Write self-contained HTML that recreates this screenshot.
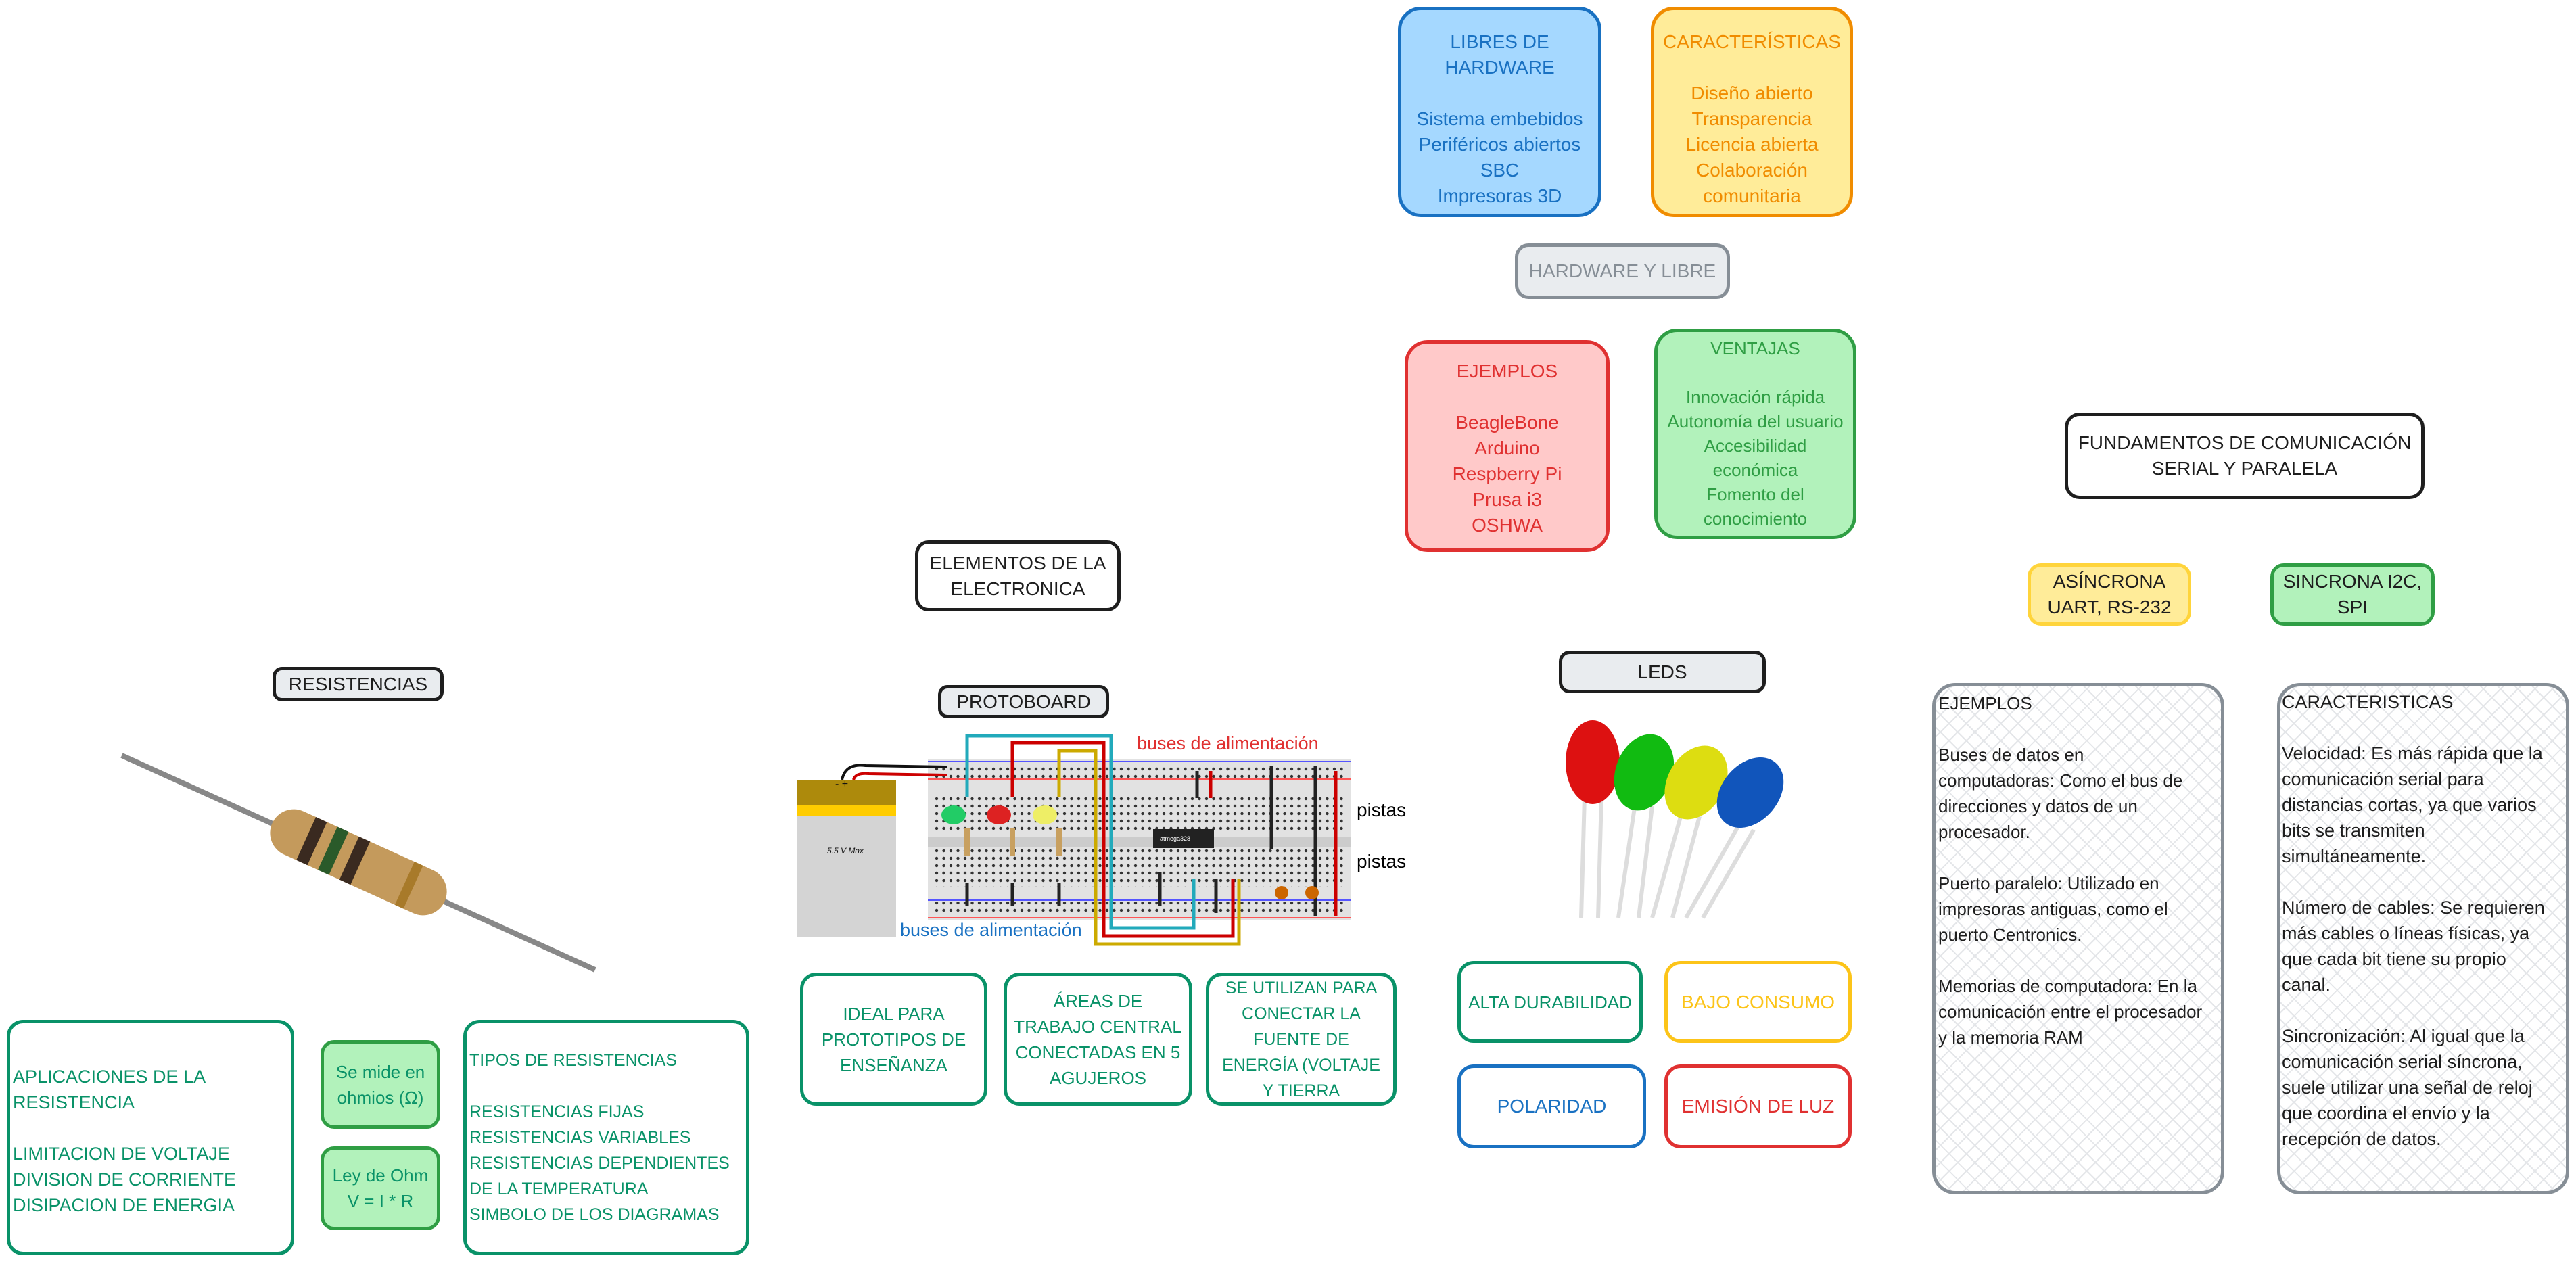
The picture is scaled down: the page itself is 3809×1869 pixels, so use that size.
<!DOCTYPE html>
<html><head><meta charset="utf-8">
<style>
body{margin:0;width:3809px;height:1869px;background:#fff;position:relative;overflow:hidden;font-family:"Liberation Sans",sans-serif}
.b{position:absolute;box-sizing:border-box;border:5px solid;border-radius:34px;text-align:center;font-size:28px;line-height:38px;white-space:nowrap}
.c{display:flex;align-items:center;justify-content:center}
.l{text-align:left}
.hatch{background-image:repeating-linear-gradient(45deg,transparent 0 16px,#e4e6e9 16px 18px),repeating-linear-gradient(-45deg,transparent 0 16px,#e4e6e9 16px 18px)}
</style></head><body>

<div class="b" style="left:2067px;top:10px;width:301px;height:311px;background:#a5d8ff;border-color:#1971c2;color:#1971c2;padding-top:28px">LIBRES DE<br>HARDWARE<br><br>Sistema embebidos<br>Periféricos abiertos<br>SBC<br>Impresoras 3D</div>
<div class="b" style="left:2441px;top:10px;width:299px;height:311px;background:#ffec99;border-color:#f08c00;color:#f08c00;padding-top:28px">CARACTERÍSTICAS<br><br>Diseño abierto<br>Transparencia<br>Licencia abierta<br>Colaboración<br>comunitaria</div>
<div class="b c" style="left:2240px;top:360px;width:318px;height:82px;background:#e9ecef;border-color:#868e96;color:#868e96;border-radius:20px">HARDWARE Y LIBRE</div>
<div class="b" style="left:2077px;top:503px;width:303px;height:313px;background:#ffc9c9;border-color:#e03131;color:#e03131;padding-top:22px">EJEMPLOS<br><br>BeagleBone<br>Arduino<br>Respberry Pi<br>Prusa i3<br>OSHWA</div>
<div class="b" style="left:2446px;top:486px;width:299px;height:311px;background:#b2f2bb;border-color:#2f9e44;color:#2f9e44;padding-top:6px;font-size:26px;line-height:36px">VENTAJAS<br><br>Innovación rápida<br>Autonomía del usuario<br>Accesibilidad<br>económica<br>Fomento del<br>conocimiento</div>

<div class="b c" style="left:3053px;top:610px;width:532px;height:128px;border-color:#1e1e1e;color:#1e1e1e;border-radius:22px">FUNDAMENTOS DE COMUNICACIÓN<br>SERIAL Y PARALELA</div>
<div class="b c" style="left:2998px;top:833px;width:242px;height:92px;background:#ffec99;border-color:#ffd43b;color:#1e1e1e;border-radius:20px">ASÍNCRONA<br>UART, RS-232</div>
<div class="b c" style="left:3357px;top:833px;width:243px;height:92px;background:#b2f2bb;border-color:#2f9e44;color:#1e1e1e;border-radius:20px">SINCRONA I2C,<br>SPI</div>
<div class="b l hatch" style="left:2857px;top:1010px;width:432px;height:756px;border-color:#868e96;color:#1e1e1e;padding:6px 0 0 4px;font-size:26px;line-height:38px">EJEMPLOS<br><br>Buses de datos en<br>computadoras: Como el bus de<br>direcciones y datos de un<br>procesador.<br><br>Puerto paralelo: Utilizado en<br>impresoras antiguas, como el<br>puerto Centronics.<br><br>Memorias de computadora: En la<br>comunicación entre el procesador<br>y la memoria RAM</div>
<div class="b l hatch" style="left:3367px;top:1010px;width:432px;height:756px;border-color:#868e96;color:#1e1e1e;padding:4px 0 0 2px;font-size:27px;line-height:38px">CARACTERISTICAS<br><br>Velocidad: Es más rápida que la<br>comunicación serial para<br>distancias cortas, ya que varios<br>bits se transmiten<br>simultáneamente.<br><br>Número de cables: Se requieren<br>más cables o líneas físicas, ya<br>que cada bit tiene su propio<br>canal.<br><br>Sincronización: Al igual que la<br>comunicación serial síncrona,<br>suele utilizar una señal de reloj<br>que coordina el envío y la<br>recepción de datos.</div>

<div class="b c" style="left:2305px;top:962px;width:306px;height:63px;background:#e9ecef;border-color:#1e1e1e;color:#1e1e1e;border-radius:16px">LEDS</div>
<svg style="position:absolute;left:2283px;top:1057px" width="400" height="320">
 <g stroke="#ddd" stroke-width="6" fill="none"><path d="M60 120 L55 300M85 120 L80 300M135 130 L110 300M160 135 L140 300M205 140 L160 300M230 150 L190 300M290 160 L210 300M310 170 L235 300"/></g>
 <g><ellipse cx="72" cy="70" rx="40" ry="62" fill="#d11"/><ellipse cx="148" cy="85" rx="42" ry="58" fill="#1b1" transform="rotate(20 148 85)"/><ellipse cx="225" cy="100" rx="42" ry="58" fill="#dd1" transform="rotate(30 225 100)"/><ellipse cx="305" cy="115" rx="42" ry="58" fill="#15b" transform="rotate(40 305 115)"/></g>
</svg>
<div class="b c" style="left:2155px;top:1421px;width:274px;height:121px;border-color:#099268;color:#099268;border-radius:24px;font-size:26px">ALTA DURABILIDAD</div>
<div class="b c" style="left:2461px;top:1421px;width:277px;height:121px;border-color:#fcc419;color:#fcc419;border-radius:24px">BAJO CONSUMO</div>
<div class="b c" style="left:2155px;top:1574px;width:279px;height:124px;border-color:#1971c2;color:#1971c2;border-radius:24px">POLARIDAD</div>
<div class="b c" style="left:2461px;top:1574px;width:277px;height:124px;border-color:#e03131;color:#e03131;border-radius:24px">EMISIÓN DE LUZ</div>

<div class="b c" style="left:1353px;top:799px;width:304px;height:105px;border-color:#1e1e1e;color:#1e1e1e;border-radius:20px">ELEMENTOS DE LA<br>ELECTRONICA</div>
<div class="b c" style="left:1387px;top:1013px;width:253px;height:49px;background:#e9ecef;border-color:#1e1e1e;color:#1e1e1e;border-radius:14px">PROTOBOARD</div>
<svg style="position:absolute;left:1170px;top:1000px" width="840" height="420">
 <defs><pattern id="dots" width="10.5" height="11" patternUnits="userSpaceOnUse"><circle cx="5" cy="5" r="2.2" fill="#333"/></pattern></defs>
 <rect x="202" y="122" width="625" height="238" fill="#e2e2e2"/>
 <line x1="202" y1="126" x2="827" y2="126" stroke="#55f" stroke-width="2"/><line x1="202" y1="152" x2="827" y2="152" stroke="#f55" stroke-width="2"/>
 <line x1="202" y1="331" x2="827" y2="331" stroke="#55f" stroke-width="2"/><line x1="202" y1="357" x2="827" y2="357" stroke="#f55" stroke-width="2"/>
 <rect x="210" y="130" width="610" height="20" fill="url(#dots)"/>
 <rect x="210" y="334" width="610" height="20" fill="url(#dots)"/>
 <rect x="210" y="176" width="610" height="56" fill="url(#dots)"/>
 <rect x="202" y="238" width="625" height="14" fill="#ccc"/>
 <rect x="210" y="256" width="610" height="56" fill="url(#dots)"/>
 <rect x="535" y="226" width="90" height="28" fill="#222"/>
 <text x="545" y="243" font-size="9" fill="#fff">atmega328</text>
 <rect x="8" y="153" width="147" height="232" fill="#d4d4d4"/><rect x="8" y="153" width="147" height="38" fill="#ad8a0c"/><rect x="8" y="191" width="147" height="16" fill="#fc0"/>
 <text x="65" y="164" font-size="16" fill="#111">- +</text>
 <text x="80" y="262" font-size="12" text-anchor="middle" font-style="italic" fill="#111">5.5 V Max</text>
 <path d="M75 153 Q80 128 110 132 L230 134" stroke="#111" stroke-width="4" fill="none"/><path d="M92 153 Q95 142 115 144 L230 146" stroke="#c00" stroke-width="4" fill="none"/>
 <g fill="none" stroke-width="5"><path d="M260 178 V88 H473 V372 H595 V300" stroke="#2ab"/><path d="M327 178 V98 H462 V384 H653 V300" stroke="#c00"/><path d="M396 178 V110 H450 V396 H662 V300" stroke="#ca0"/><path d="M805 140 V355" stroke="#c00"/><path d="M775 133 V355" stroke="#222"/><path d="M710 133 V255" stroke="#222"/><path d="M600 140 V180" stroke="#222"/><path d="M620 140 V180" stroke="#c00"/><path d="M260 305 V340M327 305 V340M396 305 V340M545 290 V340M628 300 V350" stroke="#222"/></g>
 <ellipse cx="240" cy="205" rx="18" ry="14" fill="#2c6"/><ellipse cx="307" cy="205" rx="18" ry="14" fill="#d22"/><ellipse cx="375" cy="205" rx="18" ry="14" fill="#ee6"/>
 <g fill="#c8a060"><rect x="256" y="225" width="8" height="40"/><rect x="323" y="225" width="8" height="40"/><rect x="392" y="225" width="8" height="40"/></g>
 <circle cx="725" cy="320" r="10" fill="#c60"/><circle cx="770" cy="320" r="10" fill="#c60"/>
 <text x="511" y="108" font-size="27" fill="#e03131">buses de alimentación</text>
 <text x="161" y="384" font-size="27" fill="#1971c2">buses de alimentación</text>
</svg>
<div style="position:absolute;left:2006px;top:1182px;font-size:28px">pistas</div>
<div style="position:absolute;left:2006px;top:1258px;font-size:28px">pistas</div>
<div class="b c" style="left:1183px;top:1438px;width:277px;height:197px;border-color:#099268;color:#099268;border-radius:24px;font-size:26px">IDEAL PARA<br>PROTOTIPOS DE<br>ENSEÑANZA</div>
<div class="b c" style="left:1484px;top:1438px;width:279px;height:197px;border-color:#099268;color:#099268;border-radius:24px;font-size:26px">ÁREAS DE<br>TRABAJO CENTRAL<br>CONECTADAS EN 5<br>AGUJEROS</div>
<div class="b c" style="left:1783px;top:1438px;width:282px;height:197px;border-color:#099268;color:#099268;border-radius:24px;font-size:25px">SE UTILIZAN PARA<br>CONECTAR LA<br>FUENTE DE<br>ENERGÍA (VOLTAJE<br>Y TIERRA</div>

<div class="b c" style="left:403px;top:986px;width:253px;height:51px;background:#e9ecef;border-color:#1e1e1e;color:#1e1e1e;border-radius:14px">RESISTENCIAS</div>
<svg style="position:absolute;left:175px;top:1112px" width="710" height="330">
 <line x1="5" y1="5" x2="705" y2="322" stroke="#888" stroke-width="8"/>
 <g transform="rotate(24.4 355 163)"><rect x="215" y="128" width="280" height="70" rx="35" fill="#c49a5c"/><rect x="270" y="128" width="18" height="70" fill="#3a2a20"/><rect x="305" y="128" width="18" height="70" fill="#2a5a2a"/><rect x="340" y="128" width="18" height="70" fill="#3a2a20"/><rect x="430" y="128" width="14" height="70" fill="#a87a2a"/></g>
</svg>
<div class="b l" style="left:10px;top:1508px;width:425px;height:348px;border-color:#099268;color:#099268;border-radius:24px;padding:60px 0 0 4px;font-size:27px">APLICACIONES DE LA<br>RESISTENCIA<br><br>LIMITACION DE VOLTAJE<br>DIVISION DE CORRIENTE<br>DISIPACION DE ENERGIA</div>
<div class="b c" style="left:474px;top:1538px;width:177px;height:131px;background:#b2f2bb;border-color:#2f9e44;color:#099268;border-radius:20px;font-size:26px">Se mide en<br>ohmios (Ω)</div>
<div class="b c" style="left:474px;top:1695px;width:177px;height:124px;background:#b2f2bb;border-color:#2f9e44;color:#099268;border-radius:20px;font-size:26px">Ley de Ohm<br>V = I * R</div>
<div class="b l" style="left:685px;top:1508px;width:423px;height:348px;border-color:#099268;color:#099268;border-radius:24px;padding:36px 0 0 4px;font-size:25px">TIPOS DE RESISTENCIAS<br><br>RESISTENCIAS FIJAS<br>RESISTENCIAS VARIABLES<br>RESISTENCIAS DEPENDIENTES<br>DE LA TEMPERATURA<br>SIMBOLO DE LOS DIAGRAMAS</div>
</body></html>
